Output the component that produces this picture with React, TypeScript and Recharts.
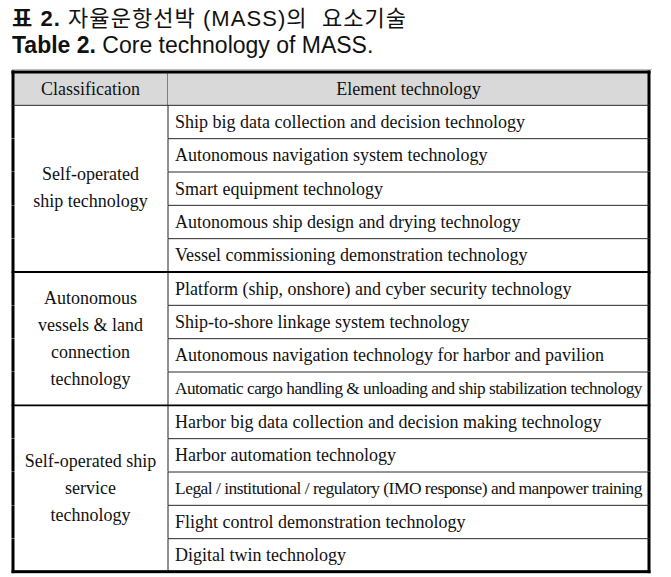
import React from 'react'
import { BarChart, Bar, XAxis, YAxis } from 'recharts'

// table content
const titleKo = ['표 2.', ' 자율운항선박 (MASS)의  요소기술']
const titleEn = ['Table 2.', ' Core technology of MASS.']
const headerLabels = ['Classification', 'Element technology']

const groupNames = [
  ['Self-operated', 'ship technology'],
  ['Autonomous', 'vessels & land', 'connection', 'technology'],
  ['Self-operated ship', 'service', 'technology'],
]

const selfOperatedShipTech = [
  'Ship big data collection and decision technology',
  'Autonomous navigation system technology',
  'Smart equipment technology',
  'Autonomous ship design and drying technology',
  'Vessel commissioning demonstration technology',
]
const vesselLandTech = [
  'Platform (ship, onshore) and cyber security technology',
  'Ship-to-shore linkage system technology',
  'Autonomous navigation technology for harbor and pavilion',
  'Automatic cargo handling & unloading and ship stabilization technology',
]
const shipServiceTech = [
  'Harbor big data collection and decision making technology',
  'Harbor automation technology',
  'Legal / institutional / regulatory (IMO response) and manpower training',
  'Flight control demonstration technology',
  'Digital twin technology',
]
const groupTechs = [selfOperatedShipTech, vesselLandTech, shipServiceTech]

// share of the table width taken by the first column
const CLS_FRAC = 155 / 636
const SERIF = '"Liberation Serif", "Times New Roman", serif'
const SANS = '"Liberation Sans", Arial, "Noto Sans CJK KR", sans-serif'
const HEAD_FILL = '#d9d9d9'
const LINE_H = 27

type Row = {
  key: string
  header: boolean
  name: string
  lines: string[]
  span: number
  first: boolean
  group: number
  last: boolean
  cls: number
  elem: number
}

const rows: Row[] = [
  {
    key: 'header', header: true, name: headerLabels[1], lines: [headerLabels[0]],
    span: 1, first: true, group: -1, last: false, cls: CLS_FRAC, elem: 1 - CLS_FRAC,
  },
]
groupTechs.forEach((techs, g) => {
  techs.forEach((t, i) => {
    rows.push({
      key: `r${g}-${i}`, header: false, name: t, lines: groupNames[g], span: techs.length,
      first: i === 0, group: g, last: g === groupTechs.length - 1 && i === techs.length - 1,
      cls: CLS_FRAC, elem: 1 - CLS_FRAC,
    })
  })
})

const topLine = (r: Row, x1: number, x2: number, y: number) => {
  if (r.header) return <rect x={x1} y={y - 1.5} width={x2 - x1} height={3} fill="#000" />
  if (r.first && r.group > 0) return <line x1={x1} x2={x2} y1={y} y2={y} stroke="#000" strokeWidth={1.8} />
  return <line x1={x1} x2={x2} y1={y} y2={y} stroke="#2a2a2a" strokeWidth={1} />
}

const ClsCell = (props: any) => {
  const { x, y, width, height, payload } = props
  const r: Row = payload
  const top = r.header ? y - 1.5 : y
  const bottom = r.last ? y + height + 1.5 : y + height
  const cx = x + width / 2
  const cy = y + (height * r.span) / 2
  return (
    <g>
      {r.header && <rect x={x} y={y} width={width} height={height} fill={HEAD_FILL} />}
      {r.first && topLine(r, x - 1.5, x + width, y)}
      {r.last && <rect x={x - 1.5} y={y + height - 1.5} width={width + 1.5} height={3} fill="#000" />}
      <rect x={x - 1.5} y={top} width={3} height={bottom - top} fill="#000" />
      <line x1={x + width} x2={x + width} y1={y} y2={y + height} stroke="#222" strokeWidth={1} />
      {r.first &&
        r.lines.map((l, i) => (
          <text
            key={i}
            x={cx}
            y={cy + (i - (r.lines.length - 1) / 2) * LINE_H}
            textAnchor="middle"
            dominantBaseline="central"
            fontFamily={SERIF}
            fontSize={18}
            fill="#111"
          >
            {l}
          </text>
        ))}
    </g>
  )
}

const ElemCell = (props: any) => {
  const { x, y, width, height, payload } = props
  const r: Row = payload
  const top = r.header ? y - 1.5 : y
  const bottom = r.last ? y + height + 1.5 : y + height
  // the two longest entries are set tighter so they fit the cell
  const squeeze = !r.header && r.name.length > 64
  return (
    <g>
      {r.header && <rect x={x} y={y} width={width} height={height} fill={HEAD_FILL} />}
      {topLine(r, x, x + width + 1.5, y)}
      {r.last && <rect x={x} y={y + height - 1.5} width={width + 1.5} height={3} fill="#000" />}
      <rect x={x + width - 1.5} y={top} width={3} height={bottom - top} fill="#000" />
      <text
        x={r.header ? x + width / 2 : x + 7}
        y={y + height / 2}
        textAnchor={r.header ? 'middle' : 'start'}
        dominantBaseline="central"
        fontFamily={SERIF}
        fontSize={squeeze ? 17 : 18}
        letterSpacing={squeeze ? -0.5 : undefined}
        fill="#111"
        textLength={squeeze ? width - 14 : undefined}
        lengthAdjust={squeeze ? 'spacingAndGlyphs' : undefined}
      >
        {r.name}
      </text>
    </g>
  )
}

export default function App() {
  return (
    <div style={{ position: 'absolute', left: 0, top: 0, width: 671, height: 577, background: '#fff' }}>
      <BarChart
        width={671}
        height={577}
        data={rows}
        layout="vertical"
        margin={{ top: 72, right: 22, bottom: 5, left: 13 }}
        barCategoryGap={0}
        barGap={0}
      >
        <XAxis type="number" domain={[0, 1]} hide />
        <YAxis type="category" dataKey="key" hide />
        <Bar dataKey="cls" stackId="t" isAnimationActive={false} shape={(p: any) => <ClsCell {...p} />} />
        <Bar dataKey="elem" stackId="t" isAnimationActive={false} shape={(p: any) => <ElemCell {...p} />} />
      </BarChart>
      <svg width={671} height={72} style={{ position: 'absolute', left: 0, top: 0 }}>
        <text
          x={12}
          y={26}
          fontFamily={SANS}
          fontSize={22}
          fill="#111"
          style={{ whiteSpace: 'pre' }}
          textLength={394}
          lengthAdjust="spacing"
        >
          <tspan fontWeight="bold">{titleKo[0]}</tspan>
          <tspan>{titleKo[1]}</tspan>
        </text>
        <text x={12} y={53} fontFamily={SANS} fontSize={23} fill="#111" style={{ whiteSpace: 'pre' }}>
          <tspan fontWeight="bold">{titleEn[0]}</tspan>
          <tspan>{titleEn[1]}</tspan>
        </text>
        <line x1={12} x2={652} y1={69.5} y2={69.5} stroke="#bdbdbd" strokeWidth={1} />
      </svg>
    </div>
  )
}
